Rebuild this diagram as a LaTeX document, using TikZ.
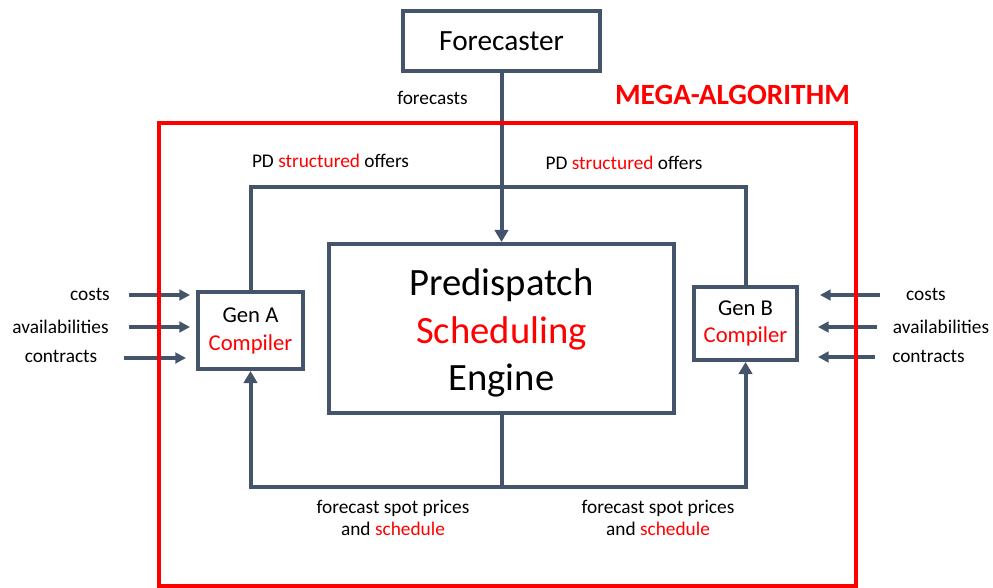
\documentclass[tikz,border=0pt]{standalone}
\usepackage{fontspec}
\setmainfont{Carlito}
\usetikzlibrary{arrows.meta}
\definecolor{slate}{RGB}{68,84,106}
\definecolor{hot}{RGB}{255,0,0}
\begin{document}
\begin{tikzpicture}[x=0.75pt,y=-0.75pt,
 box/.style={draw=slate,line width=3pt,fill=white,inner sep=0pt,align=center,text=black},
 conn/.style={draw=slate,line width=3pt},
 arr/.style={conn,-{Triangle[length=9pt,width=10pt]}},
 inarr/.style={conn,-{Triangle[length=8pt,width=8pt]}},
 lbl/.style={font=\fontsize{14.5}{16.5}\selectfont,inner sep=0pt,text=black,align=center}]
\useasboundingbox (0,0) rectangle (993,588);

% boxes
\node[box,minimum width=147.75pt,minimum height=45pt,font=\fontsize{22}{26}\selectfont] (fc) at (501.5,41) {Forecaster};
\node[box,minimum width=258.75pt,minimum height=126.75pt] (main) at (501.5,328.5) {};
\node[font=\fontsize{29}{35.6}\selectfont,align=center,inner sep=0pt,text=black] (mainT) at (501.5,333) {Predispatch\\\textcolor{hot}{Scheduling}\\Engine};
\node[box,minimum width=78.75pt,minimum height=57.75pt,font=\fontsize{17}{21}\selectfont] (gA) at (250.5,330.5) {Gen A\\\textcolor{hot}{Compiler}};
\node[box,minimum width=77.25pt,minimum height=54.75pt,font=\fontsize{17}{20.25}\selectfont] (gB) at (745.5,323.5) {Gen B\\\textcolor{hot}{Compiler}};

% junctions
\coordinate (jt) at (501.5,187);
\coordinate (jb) at (501.5,487);

% connectors
\draw[arr] (fc.south) -- (main.north);
\draw[conn] (gA.north) |- (jt);
\draw[conn] (gB.north) |- (jt);
\draw[conn] (main.south) -- (jb);
\draw[arr] (jb) -| (gA.south);
\draw[arr] (jb) -| (gB.south);

% input arrows left
\coordinate (lc1) at (129,295); \coordinate (lc2) at (190,295);
\coordinate (la1) at (129,327); \coordinate (la2) at (190,327);
\coordinate (lk1) at (124,358); \coordinate (lk2) at (186,358);
\draw[inarr] (lc1) -- (lc2);
\draw[inarr] (la1) -- (la2);
\draw[inarr] (lk1) -- (lk2);
% input arrows right
\coordinate (rc1) at (880,295); \coordinate (rc2) at (820,295);
\coordinate (ra1) at (877,327); \coordinate (ra2) at (818,327);
\coordinate (rk1) at (875,357); \coordinate (rk2) at (818,357);
\draw[inarr] (rc1) -- (rc2);
\draw[inarr] (ra1) -- (ra2);
\draw[inarr] (rk1) -- (rk2);

% labels
\node[lbl] (lcost) at (90,294) {costs};
\node[lbl] (lavail) at (60.5,327) {availabilities};
\node[lbl] (lcontr) at (61,356) {contracts};
\node[lbl] (rcost) at (926,294) {costs};
\node[lbl] (ravail) at (941,327) {availabilities};
\node[lbl] (rcontr) at (928.5,356) {contracts};

\node[lbl] (fcl) at (432.5,98) {forecasts};
\node[lbl] (pdl) at (330.5,161) {PD \textcolor{hot}{structured} offers};
\node[lbl] (pdr) at (624,163) {PD \textcolor{hot}{structured} offers};
\node[lbl] (spl) at (393,518) {forecast spot prices\\and \textcolor{hot}{schedule}};
\node[lbl] (spr) at (658,518) {forecast spot prices\\and \textcolor{hot}{schedule}};

\node[font=\fontsize{22}{26}\selectfont\bfseries,text=hot,inner sep=0pt] (mega) at (732.5,95) {MEGA-ALGORITHM};

% red frame
\draw[draw=hot,line width=3pt] (159,123) rectangle (856,586);
\end{tikzpicture}
\end{document}
